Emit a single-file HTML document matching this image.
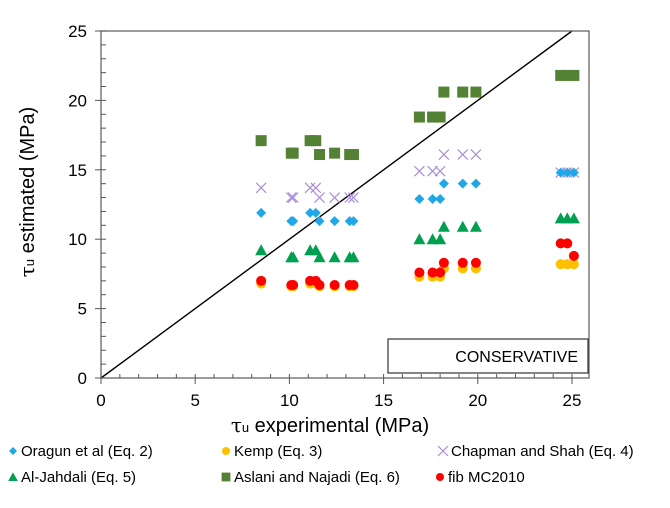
<!DOCTYPE html>
<html><head><meta charset="utf-8"><style>
body{margin:0;background:#fff;width:670px;height:503px;overflow:hidden;font-family:"Liberation Sans",Arial,sans-serif;}
</style></head><body>
<svg id="chart" width="670" height="503" xmlns="http://www.w3.org/2000/svg" font-family="Liberation Sans, Arial, sans-serif">
<rect x="0" y="0" width="670" height="503" fill="#fff"/>
<g id="marks"></g>
<g id="frame"></g>
<g>
<rect x="388" y="339" width="200" height="34" fill="#fff" stroke="#333" stroke-width="1.2"/>
<text x="578" y="362" font-size="16" text-anchor="end" fill="#000">CONSERVATIVE</text>
</g>
<text x="330" y="432" font-size="20" text-anchor="middle" fill="#000"><tspan font-family="DejaVu Serif, serif">τ</tspan><tspan font-size="13">u</tspan> experimental  (MPa)</text>
<text transform="translate(34,192) rotate(-90)" font-size="20" text-anchor="middle" fill="#000"><tspan font-family="DejaVu Serif, serif">τ</tspan><tspan font-size="13">u</tspan> estimated  (MPa)</text>
<g id="legend" font-size="15" fill="#000"></g>
</svg>
<script>
const seriesNames = ["Oragun et al (Eq. 2)","Kemp (Eq. 3)","Chapman and Shah (Eq. 4)","Al-Jahdali (Eq. 5)","Aslani and Najadi (Eq. 6)","fib MC2010"];
const xExp = [8.5,10.1,10.2,11.1,11.4,11.6,12.4,13.2,13.4,16.9,17.6,18.0,18.2,19.2,19.9,24.4,24.75,25.1];
const oragun = [11.9,11.3,11.3,11.9,11.9,11.3,11.3,11.3,11.3,12.9,12.9,12.9,14.0,14.0,14.0,14.8,14.8,14.8];
const kemp = [6.8,6.6,6.6,6.8,6.8,6.6,6.6,6.6,6.6,7.3,7.3,7.3,7.9,7.9,7.9,8.2,8.2,8.2];
const chapman = [13.7,13.0,13.0,13.7,13.7,13.0,13.0,13.0,13.0,14.9,14.9,14.9,16.1,16.1,16.1,14.8,14.8,14.8];
const jahdali = [9.2,8.7,8.7,9.2,9.2,8.7,8.7,8.7,8.7,10.0,10.0,10.0,10.9,10.9,10.9,11.5,11.5,11.5];
const aslani = [17.1,16.2,16.2,17.1,17.1,16.1,16.2,16.1,16.1,18.8,18.8,18.8,20.6,20.6,20.6,21.8,21.8,21.8];
const fib = [7.0,6.7,6.7,7.0,7.0,6.7,6.7,6.7,6.7,7.6,7.6,7.6,8.3,8.3,8.3,9.7,9.7,8.8];
const xTicks = [0,5,10,15,20,25];
const yTicks = [0,5,10,15,20,25];

const NS="http://www.w3.org/2000/svg";
const X0=101,X1=572,Y0=378,Y1=31,XMAX=25,YMAX=25;
const sx=v=>X0+(X1-X0)*v/XMAX;
const sy=v=>Y0-(Y0-Y1)*v/YMAX;
function mk(tag,attrs,parent){const e=document.createElementNS(NS,tag);for(const k in attrs)e.setAttribute(k,attrs[k]);parent.appendChild(e);return e;}
const frame=document.getElementById('frame');
const marks=document.getElementById('marks');
let fr=mk('rect',{x:X0,y:Y1,width:589-X0,height:Y0-Y1,fill:'none',stroke:'#666','stroke-width':1.3},frame);


for(let v=0;v<=25;v++){
  const major=v%5===0;
  let t=mk('line',{x1:sx(v),x2:sx(v),y1:major?Y0+6:Y0,y2:Y0-4,stroke:'#555','stroke-width':1},frame);
  
  
  let u=mk('line',{x1:major?X0-6:X0,x2:X0+5,y1:sy(v),y2:sy(v),stroke:'#555','stroke-width':1},frame);
  
  
}
xTicks.forEach(v=>{let t=mk('text',{x:sx(v),y:Y0+28,'font-size':17,'text-anchor':'middle',fill:'#000'},frame);t.textContent=v;
  
  });
yTicks.forEach(v=>{let t=mk('text',{x:X0-14,y:sy(v)+6,'font-size':17,'text-anchor':'end',fill:'#000'},frame);t.textContent=v;
  
  });
let d=mk('line',{x1:sx(0),y1:sy(0),x2:sx(25),y2:sy(25),stroke:'#000','stroke-width':1.4},marks);



function marker(type,cx,cy,parent){
  let e;
  if(type==='diamond') e=mk('path',{d:`M${cx},${cy-5}L${cx+5},${cy}L${cx},${cy+5}L${cx-5},${cy}Z`,fill:'#1fa7e8'},parent);
  else if(type==='circle-y') e=mk('circle',{cx:cx,cy:cy,r:5,fill:'#ffc000'},parent);
  else if(type==='circle-r') e=mk('circle',{cx:cx,cy:cy,r:5,fill:'#f00'},parent);
  else if(type==='tri') e=mk('path',{d:`M${cx},${cy-6}L${cx+6},${cy+5}L${cx-6},${cy+5}Z`,fill:'#00a050'},parent);
  else if(type==='square') e=mk('rect',{x:cx-5.5,y:cy-5.5,width:11,height:11,fill:'#548235'},parent);
  else e=mk('path',{d:`M${cx-5},${cy-5}L${cx+5},${cy+5}M${cx+5},${cy-5}L${cx-5},${cy+5}`,stroke:'#a98fd6','stroke-width':1.2,fill:'none'},parent);
  return e;
}
const seriesVals=[oragun,kemp,chapman,jahdali,aslani,fib];
const seriesType=['diamond','circle-y','cross','tri','square','circle-r'];
const seriesKeys=['oragun','kemp','chapman','jahdali','aslani','fib'];
const drawOrder=[4,2,0,3,1,5];
drawOrder.forEach(i=>{
  const g=mk('g',{},marks);
  
  
  seriesVals[i].forEach((v,j)=>{
    const m=marker(seriesType[i],sx(xExp[j]),sy(v),g);
    
    
  });
});
const leg=document.getElementById('legend');
const lpos=[[13,456],[226,456],[443,456],[13,482],[226,482],[440,482]];
seriesNames.forEach((n,i)=>{
  const g=mk('g',{},leg);
  
  
  const [lx,ly]=lpos[i];
  const s=seriesType[i];
  const m=marker(s,lx,ly-5,g);
  if(s!=='cross'){m.setAttribute('transform',`translate(${lx},${ly-5}) scale(0.8) translate(${-lx},${-ly+5})`);}
  const t=mk('text',{x:lx+8,y:ly,'font-size':15,fill:'#000'},g);t.textContent=n;
});
</script>
</body></html>
